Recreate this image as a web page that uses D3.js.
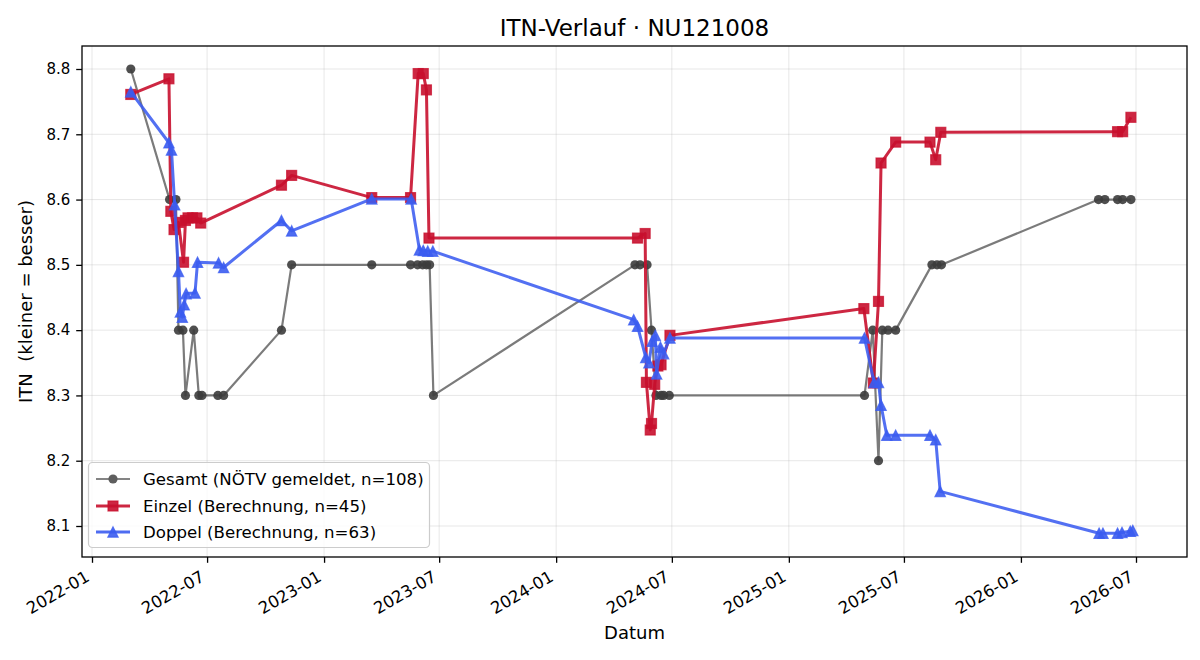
<!DOCTYPE html>
<html><head><meta charset="utf-8">
<script src="https://cdn.jsdelivr.net/npm/d3@7"></script>
<style>body{margin:0;background:#fff}svg{display:block}text{font-family:"DejaVu Sans",sans-serif;fill:#000}</style>
</head><body><svg id="c" width="1200" height="660"></svg>
<script>
// ---------- data ----------
const gesamtDates = ["2022-03-03","2022-05-03","2022-05-13","2022-05-17","2022-05-24","2022-05-28","2022-06-10","2022-06-18","2022-06-23","2022-07-18","2022-07-27","2022-10-26","2022-11-11","2023-03-17","2023-05-17","2023-05-28","2023-06-05","2023-06-11","2023-06-16","2023-06-22","2024-05-04","2024-05-12","2024-05-23","2024-05-30","2024-06-06","2024-06-14","2024-06-18","2024-06-27","2025-04-30","2025-05-13","2025-05-22","2025-05-28","2025-06-06","2025-06-18","2025-08-14","2025-08-22","2025-08-29","2026-05-03","2026-05-13","2026-06-02","2026-06-10","2026-06-23"];
const gesamtValues = [8.80,8.60,8.60,8.40,8.40,8.30,8.40,8.30,8.30,8.30,8.30,8.40,8.50,8.50,8.50,8.50,8.50,8.50,8.50,8.30,8.50,8.50,8.50,8.40,8.30,8.30,8.30,8.30,8.30,8.40,8.20,8.40,8.40,8.40,8.50,8.50,8.50,8.60,8.60,8.60,8.60,8.60];

const einzelDates = ["2022-03-03","2022-05-02","2022-05-05","2022-05-10","2022-05-17","2022-05-25","2022-05-28","2022-06-01","2022-06-08","2022-06-15","2022-06-21","2022-10-26","2022-11-11","2023-03-17","2023-05-17","2023-05-29","2023-06-06","2023-06-11","2023-06-15","2024-05-08","2024-05-20","2024-05-22","2024-05-28","2024-05-30","2024-06-04","2024-06-09","2024-06-14","2024-06-28","2025-04-29","2025-05-14","2025-05-22","2025-05-26","2025-06-18","2025-08-11","2025-08-20","2025-08-28","2026-06-02","2026-06-10","2026-06-23"];
const einzelValues = [8.761,8.785,8.582,8.554,8.565,8.504,8.568,8.572,8.572,8.572,8.564,8.622,8.637,8.603,8.603,8.793,8.793,8.768,8.541,8.541,8.548,8.320,8.247,8.257,8.317,8.345,8.347,8.392,8.433,8.319,8.444,8.656,8.688,8.688,8.661,8.703,8.704,8.704,8.726];

const doppelDates = ["2022-03-03","2022-05-02","2022-05-06","2022-05-11","2022-05-17","2022-05-20","2022-05-23","2022-05-26","2022-05-29","2022-06-12","2022-06-16","2022-07-19","2022-07-27","2022-10-26","2022-11-11","2023-03-17","2023-05-18","2023-05-31","2023-06-06","2023-06-13","2023-06-21","2024-05-02","2024-05-08","2024-05-21","2024-05-26","2024-05-31","2024-06-05","2024-06-07","2024-06-13","2024-06-18","2024-06-28","2025-04-30","2025-05-15","2025-05-22","2025-05-26","2025-06-04","2025-06-18","2025-08-11","2025-08-20","2025-08-27","2026-05-04","2026-05-10","2026-06-02","2026-06-09","2026-06-22","2026-06-26"];
const doppelValues = [8.765,8.687,8.676,8.592,8.490,8.428,8.420,8.439,8.456,8.457,8.504,8.503,8.496,8.568,8.552,8.601,8.601,8.523,8.522,8.521,8.521,8.416,8.406,8.358,8.350,8.383,8.392,8.333,8.374,8.364,8.388,8.388,8.320,8.320,8.285,8.239,8.239,8.239,8.232,8.153,8.089,8.089,8.089,8.090,8.092,8.093];

const xTickLabels = ["2022-01","2022-07","2023-01","2023-07","2024-01","2024-07","2025-01","2025-07","2026-01","2026-07"];
const yTickLabels = ["8.1","8.2","8.3","8.4","8.5","8.6","8.7","8.8"];
const seriesNames = ["Gesamt (NÖTV gemeldet, n=108)","Einzel (Berechnung, n=45)","Doppel (Berechnung, n=63)"];

// ---------- layout ----------
const L=82, R=1187, T=46, B=557;
const parse = d3.utcParse("%Y-%m-%d");
const parseM = d3.utcParse("%Y-%m");
const x = d3.scaleUtc().domain([parseM("2022-01"), parseM("2026-07")]).range([92,1136]);
const y = d3.scaleLinear().domain([8.1,8.8]).range([526,69]);

const svg = d3.select("#c");
svg.append("rect").attr("width",1200).attr("height",660).attr("fill","#fff");

const xTicks = xTickLabels.map(parseM);
const yTicks = yTickLabels.map(Number);

// grid
const grid = svg.append("g").attr("stroke","#b0b0b0").attr("stroke-opacity",0.3).attr("stroke-width",1);
grid.selectAll(".gx").data(xTicks).join("line").attr("x1",d=>x(d)).attr("x2",d=>x(d)).attr("y1",T).attr("y2",B);
grid.selectAll(".gy").data(yTicks).join("line").attr("x1",L).attr("x2",R).attr("y1",d=>y(d)).attr("y2",d=>y(d));

// series
function mk(dates, vals){ return dates.map((d,i)=>({d:parse(d), v:vals[i]})); }
const gesamt = mk(gesamtDates, gesamtValues);
const einzel = mk(einzelDates, einzelValues);
const doppel = mk(doppelDates, doppelValues);
const line = d3.line().x(p=>x(p.d)).y(p=>y(p.v));

svg.append("clipPath").attr("id","cp").append("rect").attr("x",L).attr("y",T).attr("width",R-L).attr("height",B-T);
const plot = svg.append("g").attr("clip-path","url(#cp)");

// Gesamt
plot.append("path").datum(gesamt).attr("d",line).attr("fill","none").attr("stroke","#5a5a5a").attr("stroke-opacity",0.8).attr("stroke-width",2.2).attr("stroke-linejoin","round");
plot.append("g").selectAll("circle").data(gesamt).join("circle").attr("cx",p=>x(p.d)).attr("cy",p=>y(p.v)).attr("r",4.6).attr("fill","#3c3c3c").attr("fill-opacity",0.9);

// Einzel
const red="#c8102e";
plot.append("path").datum(einzel).attr("d",line).attr("fill","none").attr("stroke",red).attr("stroke-opacity",0.9).attr("stroke-width",3).attr("stroke-linejoin","round");
plot.append("g").selectAll("rect").data(einzel).join("rect").attr("x",p=>x(p.d)-5).attr("y",p=>y(p.v)-5).attr("width",10).attr("height",10).attr("fill",red).attr("fill-opacity",0.9).attr("stroke",red).attr("stroke-opacity",0.75).attr("stroke-width",1.2);

// Doppel
const blue="#3b5cf0";
const tri = s=>`M0,${-s}L${-s},${s}L${s},${s}Z`;
plot.append("path").datum(doppel).attr("d",line).attr("fill","none").attr("stroke",blue).attr("stroke-opacity",0.88).attr("stroke-width",3).attr("stroke-linejoin","round");
plot.append("g").selectAll("path").data(doppel).join("path").attr("d",tri(5.2)).attr("transform",p=>`translate(${x(p.d)},${y(p.v)})`).attr("fill",blue).attr("fill-opacity",0.9).attr("stroke",blue).attr("stroke-opacity",0.75).attr("stroke-width",1.2);

// frame
svg.append("rect").attr("x",L).attr("y",T).attr("width",R-L).attr("height",B-T).attr("fill","none").attr("stroke","#000").attr("stroke-width",1.3);

// axes
const xAxis = svg.append("g").attr("transform",`translate(0,${B})`)
  .call(d3.axisBottom(x).tickValues(xTicks).tickFormat((d,i)=>xTickLabels[i]).tickSize(5.8).tickSizeOuter(0));
xAxis.select(".domain").remove();
xAxis.selectAll("line").attr("stroke","#000").attr("stroke-width",1.3);
xAxis.selectAll("text").attr("font-size",16.5).attr("font-family","DejaVu Sans").attr("text-anchor","end")
  .attr("dy",null).attr("y",null)
  .attr("transform","translate(-2,23) rotate(-30)");

const yAxis = svg.append("g").attr("transform",`translate(${L},0)`)
  .call(d3.axisLeft(y).tickValues(yTicks).tickFormat((d,i)=>yTickLabels[i]).tickSize(5.8).tickSizeOuter(0).tickPadding(5.8));
yAxis.select(".domain").remove();
yAxis.selectAll("line").attr("stroke","#000").attr("stroke-width",1.3);
yAxis.selectAll("text").attr("font-size",15).attr("font-family","DejaVu Sans");

// labels
svg.append("text").attr("x",(L+R)/2).attr("y",36).attr("text-anchor","middle").attr("font-size",23).text("ITN-Verlauf · NU121008");
svg.append("text").attr("x",(L+R)/2).attr("y",639).attr("text-anchor","middle").attr("font-size",18).text("Datum");
svg.append("text").attr("transform",`translate(32,${(T+B)/2}) rotate(-90)`).attr("text-anchor","middle").attr("font-size",18).style("white-space","pre").text("ITN  (kleiner = besser)");

// legend
const lg = svg.append("g");
lg.append("rect").attr("x",88.5).attr("y",462.5).attr("width",341).attr("height",85).attr("rx",4).attr("fill","#fff").attr("fill-opacity",0.8).attr("stroke","#cccccc").attr("stroke-width",1.2);
const rowsY=[479,506,532];
const lc=[{c:"#777",m:"c"},{c:red,m:"s"},{c:blue,m:"t"}];
seriesNames.forEach((n,i)=>{
  const yy=rowsY[i];
  lg.append("line").attr("x1",96).attr("x2",130).attr("y1",yy).attr("y2",yy).attr("stroke",lc[i].c).attr("stroke-width",i==0?2.2:3).attr("stroke-opacity",0.9);
  if(lc[i].m=="c") lg.append("circle").attr("cx",113).attr("cy",yy).attr("r",4.6).attr("fill","#5e5e5e");
  if(lc[i].m=="s") lg.append("rect").attr("x",108).attr("y",yy-5).attr("width",10).attr("height",10).attr("fill",red).attr("fill-opacity",0.9).attr("stroke",red).attr("stroke-width",1.2).attr("stroke-opacity",0.75);
  if(lc[i].m=="t") lg.append("path").attr("d",tri(5.2)).attr("transform",`translate(113,${yy})`).attr("fill",blue).attr("fill-opacity",0.9).attr("stroke",blue).attr("stroke-width",1.2).attr("stroke-opacity",0.75);
  lg.append("text").attr("x",143).attr("y",yy+6).attr("font-size",16.6).text(n);
});
</script></body></html>
